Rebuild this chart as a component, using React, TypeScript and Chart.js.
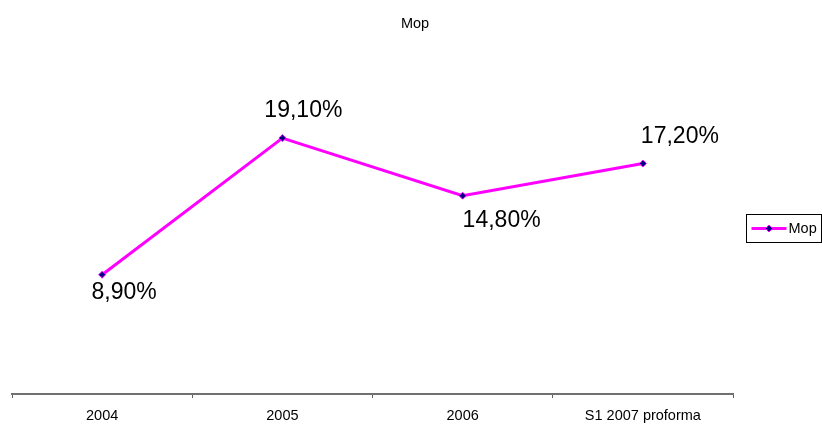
import React, { useEffect, useRef } from "react";
import { Chart, registerables } from "chart.js";

Chart.register(...registerables);

const categories = ["2004", "2005", "2006", "S1 2007 proforma"];
const mopValues = [8.9, 19.1, 14.8, 17.2];
const seriesName = "Mop";
const chartTitle = "Mop";

// label placement relative to each point: [dx of text centre, dy of baseline]
const labelOffsets: [number, number][] = [
  [22, 24],
  [21, -21],
  [39, 31],
  [37, -21],
];

const LINE_COLOR = "#FF00FF";
const MARKER_COLOR = "#000080";
const FONT = "'Liberation Sans', Arial, sans-serif";

const fmt = (v: number) => v.toFixed(2).replace(".", ",") + "%";

const valueLabels = {
  id: "valueLabels",
  afterDatasetsDraw(chart: any) {
    const meta = chart.getDatasetMeta(0);
    const ctx = chart.ctx;
    ctx.save();
    ctx.font = `23px ${FONT}`;
    ctx.fillStyle = "#000";
    ctx.textAlign = "center";
    ctx.textBaseline = "alphabetic";
    meta.data.forEach((pt: any, i: number) => {
      const [dx, dy] = labelOffsets[i];
      ctx.fillText(fmt(mopValues[i]), pt.x + dx, pt.y + dy);
    });
    ctx.restore();
  },
};

// title centred on the whole canvas
const pageTitle = {
  id: "pageTitle",
  afterDraw(chart: any) {
    const ctx = chart.ctx;
    ctx.save();
    ctx.font = `14.5px ${FONT}`;
    ctx.fillStyle = "#000";
    ctx.textAlign = "center";
    ctx.textBaseline = "alphabetic";
    ctx.fillText(chartTitle, chart.width / 2 + 4, 28);
    ctx.restore();
  },
};

const boxLegend = {
  id: "boxLegend",
  afterDraw(chart: any) {
    const ctx = chart.ctx;
    const x = 746.5, y = 214.5, w = 75, h = 28;
    const cy = y + h / 2;
    ctx.save();
    ctx.strokeStyle = "#000";
    ctx.lineWidth = 1;
    ctx.strokeRect(x, y, w, h);
    ctx.strokeStyle = LINE_COLOR;
    ctx.lineWidth = 3;
    ctx.beginPath();
    ctx.moveTo(x + 5, cy);
    ctx.lineTo(x + 40, cy);
    ctx.stroke();
    const mx = x + 22.5;
    ctx.fillStyle = MARKER_COLOR;
    ctx.strokeStyle = LINE_COLOR;
    ctx.lineWidth = 1;
    ctx.beginPath();
    ctx.moveTo(mx, cy - 3.5);
    ctx.lineTo(mx + 3.5, cy);
    ctx.lineTo(mx, cy + 3.5);
    ctx.lineTo(mx - 3.5, cy);
    ctx.closePath();
    ctx.fill();
    ctx.stroke();
    ctx.fillStyle = "#000";
    ctx.font = `14.5px ${FONT}`;
    ctx.textAlign = "left";
    ctx.textBaseline = "middle";
    ctx.fillText(seriesName, x + 42, cy + 0.5);
    ctx.restore();
  },
};

export default function App() {
  const canvasRef = useRef<HTMLCanvasElement | null>(null);

  useEffect(() => {
    if (!canvasRef.current) return;
    const chart = new Chart(canvasRef.current, {
      type: "line",
      data: {
        labels: categories,
        datasets: [
          {
            label: seriesName,
            data: mopValues,
            borderColor: LINE_COLOR,
            borderWidth: 3,
            pointStyle: "rectRot",
            pointRadius: 3.5,
            pointBackgroundColor: MARKER_COLOR,
            pointBorderColor: LINE_COLOR,
            pointBorderWidth: 1,
            tension: 0,
            fill: false,
          },
        ],
      },
      options: {
        animation: false,
        responsive: true,
        maintainAspectRatio: false,
        layout: { padding: { left: 12, right: 89, top: 59, bottom: 0 } },
        plugins: {
          legend: { display: false },
          tooltip: { enabled: false },
          title: { display: false },
        },
        scales: {
          x: {
            offset: true,
            grid: {
              offset: true,
              drawOnChartArea: false,
              drawTicks: true,
              tickLength: 4,
              color: "#606060",
              lineWidth: 1,
            },
            border: { display: true, color: "#707070", width: 2 },
            ticks: {
              color: "#000",
              font: { family: FONT, size: 14.5 },
              padding: 9,
              maxRotation: 0,
            },
            afterFit: (s: any) => {
              s.height = 30;
            },
          },
          y: {
            display: false,
            min: 0,
            max: 25,
          },
        },
      },
      plugins: [valueLabels, pageTitle, boxLegend],
    });
    return () => chart.destroy();
  }, []);

  return (
    <div style={{ position: "fixed", left: 0, top: 0, width: 822, height: 424, background: "#fff" }}>
      <canvas ref={canvasRef} />
    </div>
  );
}
